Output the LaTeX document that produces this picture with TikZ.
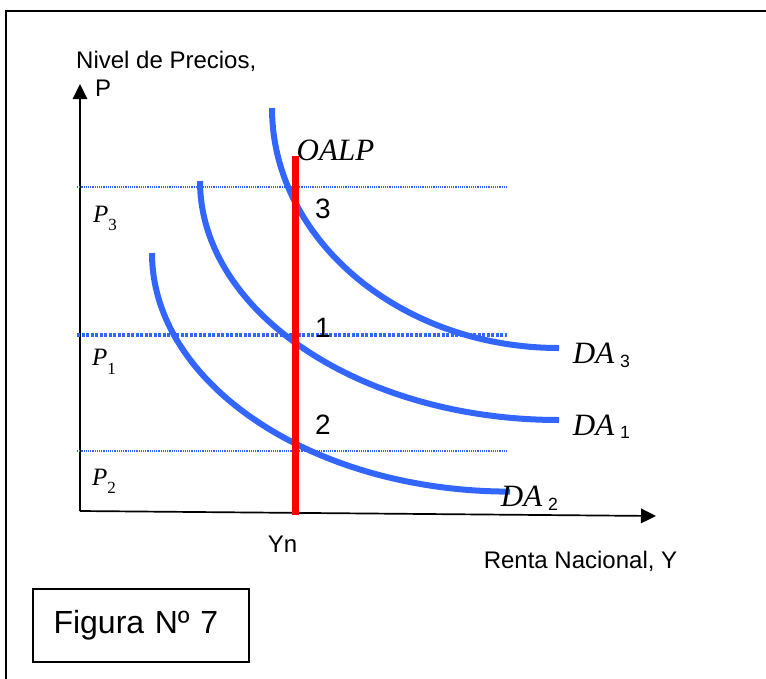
\documentclass[tikz,border=0pt]{standalone}
\usepackage{fontspec}
\setmainfont{Liberation Serif}
\setsansfont{Liberation Sans}
\usepackage{xcolor}
\usetikzlibrary{arrows.meta}
\definecolor{dablue}{RGB}{51,102,255}
\definecolor{oalpred}{RGB}{255,0,0}

\begin{document}
\begin{tikzpicture}[
    x=1pt, y=-1pt,
    every node/.style={inner sep=0pt, anchor=base west},
    lbl/.style={font=\sffamily\fontsize{24}{24}\selectfont},
    num/.style={font=\sffamily\fontsize{28}{28}\selectfont},
    psym/.style={font=\itshape\fontsize{25}{25}\selectfont},
    dasym/.style={font=\itshape\fontsize{31}{31}\selectfont},
    ax/.style={line width=1.7pt, -{Triangle[length=15pt, width=14.5pt]}},
    dem/.style={line width=6pt, dablue},
    pline/.style={line width=1.3pt, dablue, dash pattern=on 1.2pt off 1pt},
    pthick/.style={line width=3.4pt, dablue, dash pattern=on 3pt off 1.5pt},
]
\useasboundingbox (0,0) rectangle (766,678);

% Frame
\draw[line width=2pt] (6,700) -- (6,11) -- (790,11);

% Axes
\coordinate (o) at (80,511);
\coordinate (ytop) at (80,84);
\coordinate (xend) at (656,516);
\draw[ax] (o) -- (ytop);
\draw[ax] (o) -- (xend);

% Price levels
\coordinate (p3a) at (77,187);  \coordinate (p3b) at (507,187);
\coordinate (p1a) at (77,335);  \coordinate (p1b) at (507,335);
\coordinate (p2a) at (77,451);  \coordinate (p2b) at (507,451);
\draw[pline] (p3a) -- (p3b);
\draw[pthick] (p1a) -- (p1b);
\draw[pline] (p2a) -- (p2b);

% Demand curves
\coordinate (da3s) at (272,108);  \coordinate (da3e) at (559,348);
\coordinate (da1s) at (200,181);  \coordinate (da1e) at (559,420);
\coordinate (da2s) at (152,253);  \coordinate (da2e) at (510,491.6);
\draw[dem] (da3s) .. controls (272,240) and (401,348) .. (da3e);
\draw[dem] (da1s) .. controls (200,312.5) and (361.5,420) .. (da1e);
\draw[dem] (da2s) .. controls (152,384) and (313,491.6) .. (da2e);

% Long-run supply
\coordinate (oalpt) at (295.8,156);
\coordinate (oalpb) at (295.8,515);
\draw[line width=7pt, oalpred] (oalpb) -- (oalpt);

% Labels
\node (ylab) [lbl] at (76,68.3) {Nivel de Precios,};
\node (ysym) [lbl] at (95,96.4) {P};
\node (xlab) [lbl] at (483.6,568.5) {Renta Nacional, Y};
\node (yn) [lbl] at (267.7,552) {Yn};
\node (oalp) [dasym] at (296.5,160.8) {OALP};
\node (e3) [num] at (315,218) {3};
\node (e1) [num] at (315,337) {1};
\node (e2) [num] at (315,434.5) {2};
\node (lp3) [psym] at (93,222.3) {P\raisebox{-8.4pt}{\upshape\fontsize{17}{17}\selectfont 3}};
\node (lp1) [psym] at (92,365) {P\raisebox{-9pt}{\upshape\fontsize{17}{17}\selectfont 1}};
\node (lp2) [psym] at (92,485.3) {P\raisebox{-8pt}{\upshape\fontsize{17}{17}\selectfont 2}};
\node (lda3) [dasym] at (572.7,363.3) {DA\hspace{6pt}\raisebox{-4.4pt}{\sffamily\upshape\fontsize{17.7}{17.7}\selectfont 3}};
\node (lda1) [dasym] at (572.7,435) {DA\hspace{6pt}\raisebox{-3.5pt}{\sffamily\upshape\fontsize{17.7}{17.7}\selectfont 1}};
\node (lda2) [dasym] at (500.7,506.7) {DA\hspace{6pt}\raisebox{-4pt}{\sffamily\upshape\fontsize{17.7}{17.7}\selectfont 2}};

% Figure tag
\node (fig) [draw, line width=1.5pt, anchor=north west, minimum width=216pt, minimum height=73pt,
    inner xsep=20.8pt, text width=174.4pt, align=left,
    font=\sffamily\fontsize{32}{32}\selectfont] at (32,588) {Figura Nº 7};
\end{tikzpicture}
\end{document}
